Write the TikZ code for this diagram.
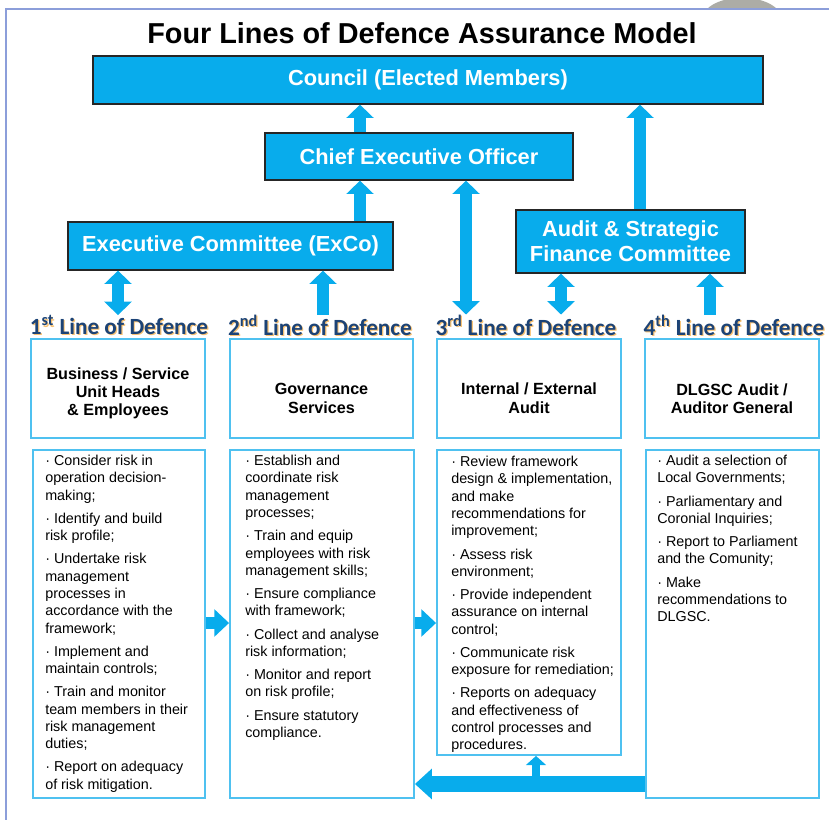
\documentclass[tikz,border=0pt]{standalone}
\usepackage{fontspec}
\setmainfont{Liberation Sans}
\newfontfamily\linefont{Carlito}
\usetikzlibrary{arrows.meta,positioning,shadows}
\definecolor{sky}{RGB}{8,172,236}
\definecolor{edge}{RGB}{79,193,240}
\definecolor{navy}{RGB}{28,67,118}
\definecolor{glow}{RGB}{245,178,80}
\definecolor{frame}{RGB}{140,158,218}
\definecolor{bump}{RGB}{172,172,166}
\newcommand{\dotitem}{\textperiodcentered\ }
\tikzset{
  px/.style 2 args={minimum width=#1*0.025cm,minimum height=#2*0.025cm},
  bar/.style={fill=sky,draw=black!85,line width=0.9pt,text=white,align=center,
    inner sep=0pt,font=\bfseries\fontsize{15.5}{18}\selectfont,
    drop shadow={opacity=0.3,shadow xshift=1pt,shadow yshift=-1pt}},
  head/.style={draw=edge,line width=1.3pt,fill=white,inner sep=0pt},
  headtext/.style={align=center,inner sep=0pt,font=\bfseries\fontsize{11.5}{13}\selectfont},
  list/.style={draw=edge,line width=1.3pt,fill=white,inner sep=0pt},
  bullets/.style={anchor=north west,align=left,inner sep=0pt,
    font=\fontsize{10.2}{12.3}\selectfont},
  lod/.style={font=\linefont\bfseries\fontsize{16.5}{18}\selectfont,text=navy,inner sep=0pt},
  lodglow/.style={lod,text=glow,opacity=0.8},
  flow/.style={draw=sky,line width=8pt,-{Triangle[length=9.5pt,width=19pt]}},
  twoway/.style={draw=sky,line width=8pt,{Triangle[length=9.5pt,width=19pt]}-{Triangle[length=9.5pt,width=19pt]}},
  push/.style={draw=sky,line width=9pt,-{Triangle[length=10.5pt,width=19pt]}},
  back/.style={draw=sky,line width=11.5pt,-{Triangle[length=12pt,width=21pt]}},
  nub/.style={draw=sky,line width=5.5pt,-{Triangle[length=6.5pt,width=14pt]}},
}

\begin{document}
\begin{tikzpicture}[x=0.025cm,y=-0.025cm]
  \useasboundingbox (0,0) rectangle (829,820);
  \fill[bump] (707,9) .. controls (722,-6) and (762,-6) .. (777,9) -- cycle;
  \draw[frame,line width=1pt] (6,820) -- (6,9) -- (829,9);

  \node[font=\bfseries\fontsize{20.5}{24}\selectfont] (title) at (422,33) {Four Lines of Defence Assurance Model};

  \node[bar,px={670}{48}] (council) at (428,80) {Council (Elected Members)};
  \node[bar,px={308}{47}] (ceo) at (419,156.5) {Chief Executive Officer};
  \node[bar,px={325}{48}] (exco) at (230.5,246) {Executive Committee (ExCo)};
  \node[bar,px={229}{63}] (audit) at (630.5,241.5) {Audit \& Strategic\\Finance Committee};

  \foreach \n/\x/\s in {1/119/st,2/320/nd,3/526/rd,4/734/th}{
    \node[lodglow] (g\n) at (\x+1.2,326.5) {\n\textsuperscript{\s} Line of Defence};
    \node[lod] (l\n) at (\x,325) {\n\textsuperscript{\s} Line of Defence};
  }

  \node[head,px={174}{99}] (h1) at (118,388.5) {};
  \node[head,px={183}{99}] (h2) at (321.5,388.5) {};
  \node[head,px={184}{99}] (h3) at (529,388.5) {};
  \node[head,px={174}{99}] (h4) at (732,388.5) {};
  \node[headtext] (ht1) at ([yshift=-3.5pt]h1.center) {Business / Service\\Unit Heads\\\& Employees};
  \node[headtext] (ht2) at ([yshift=-7pt]h2.center) {Governance\\Services};
  \node[headtext] (ht3) at ([yshift=-7pt]h3.center) {Internal / External\\Audit};
  \node[headtext] (ht4) at ([yshift=-7.5pt]h4.center) {DLGSC Audit /\\Auditor General};

  \node[list,px={172}{348}] (c1) at (119,624) {};
  \node[list,px={184}{348}] (c2) at (322,624) {};
  \node[list,px={184}{305}] (c3) at (529,602.5) {};
  \node[list,px={173}{348}] (c4) at (732.5,624) {};

  \node[bullets] (t1) at (45,455) {\dotitem Consider risk in\\operation decision-\\making;\\[4.2pt]
    \dotitem Identify and build\\risk profile;\\[4.2pt]
    \dotitem Undertake risk\\management\\processes in\\accordance with the\\framework;\\[4.2pt]
    \dotitem Implement and\\maintain controls;\\[4.2pt]
    \dotitem Train and monitor\\team members in their\\risk management\\duties;\\[4.2pt]
    \dotitem Report on adequacy\\of risk mitigation.};
  \node[bullets] (t2) at (245,455) {\dotitem Establish and\\coordinate risk\\management\\processes;\\[4.2pt]
    \dotitem Train and equip\\employees with risk\\management skills;\\[4.2pt]
    \dotitem Ensure compliance\\with framework;\\[4.2pt]
    \dotitem Collect and analyse\\risk information;\\[4.2pt]
    \dotitem Monitor and report\\on risk profile;\\[4.2pt]
    \dotitem Ensure statutory\\compliance.};
  \node[bullets] (t3) at (451,456) {\dotitem Review framework\\design \& implementation,\\and make\\recommendations for\\improvement;\\[4.2pt]
    \dotitem Assess risk\\environment;\\[4.2pt]
    \dotitem Provide independent\\assurance on internal\\control;\\[4.2pt]
    \dotitem Communicate risk\\exposure for remediation;\\[4.2pt]
    \dotitem Reports on adequacy\\and effectiveness of\\control processes and\\procedures.};
  \node[bullets] (t4) at (657,455) {\dotitem Audit a selection of\\Local Governments;\\[4.2pt]
    \dotitem Parliamentary and\\Coronial Inquiries;\\[4.2pt]
    \dotitem Report to Parliament\\and the Comunity;\\[4.2pt]
    \dotitem Make\\recommendations to\\DLGSC.};

  % connectors
  \coordinate (k1) at (118,0);
  \coordinate (k2) at (323,0);
  \coordinate (k3) at (360,0);
  \coordinate (k4) at (466,0);
  \coordinate (k5) at (561,0);
  \coordinate (k6) at (640,0);
  \coordinate (k7) at (710,0);
  \coordinate (mid) at (0,623);
  \coordinate (bot) at (0,784);
  \coordinate (j) at (536,784);

  \draw[flow] (ceo.north -| k3) -- (council.south -| k3);
  \draw[flow] (exco.north -| k3) -- (ceo.south -| k3);
  \draw[flow] (audit.north -| k6) -- (council.south -| k6);
  \draw[twoway] (exco.south -| k1) -- (l1.north -| k1);
  \draw[flow] (l2.north -| k2) -- (exco.south -| k2);
  \draw[twoway] (ceo.south -| k4) -- (l3.north -| k4);
  \draw[twoway] (audit.south -| k5) -- (l3.north -| k5);
  \draw[flow] (l4.north -| k7) -- (audit.south -| k7);

  \draw[push] (c1.east |- mid) -- (c2.west |- mid);
  \draw[push] (c2.east |- mid) -- (c3.west |- mid);
  \draw[back] (c4.west |- bot) -- (c2.east |- bot);
  \draw[nub] (j) -- (j |- c3.south);
\end{tikzpicture}
\end{document}
